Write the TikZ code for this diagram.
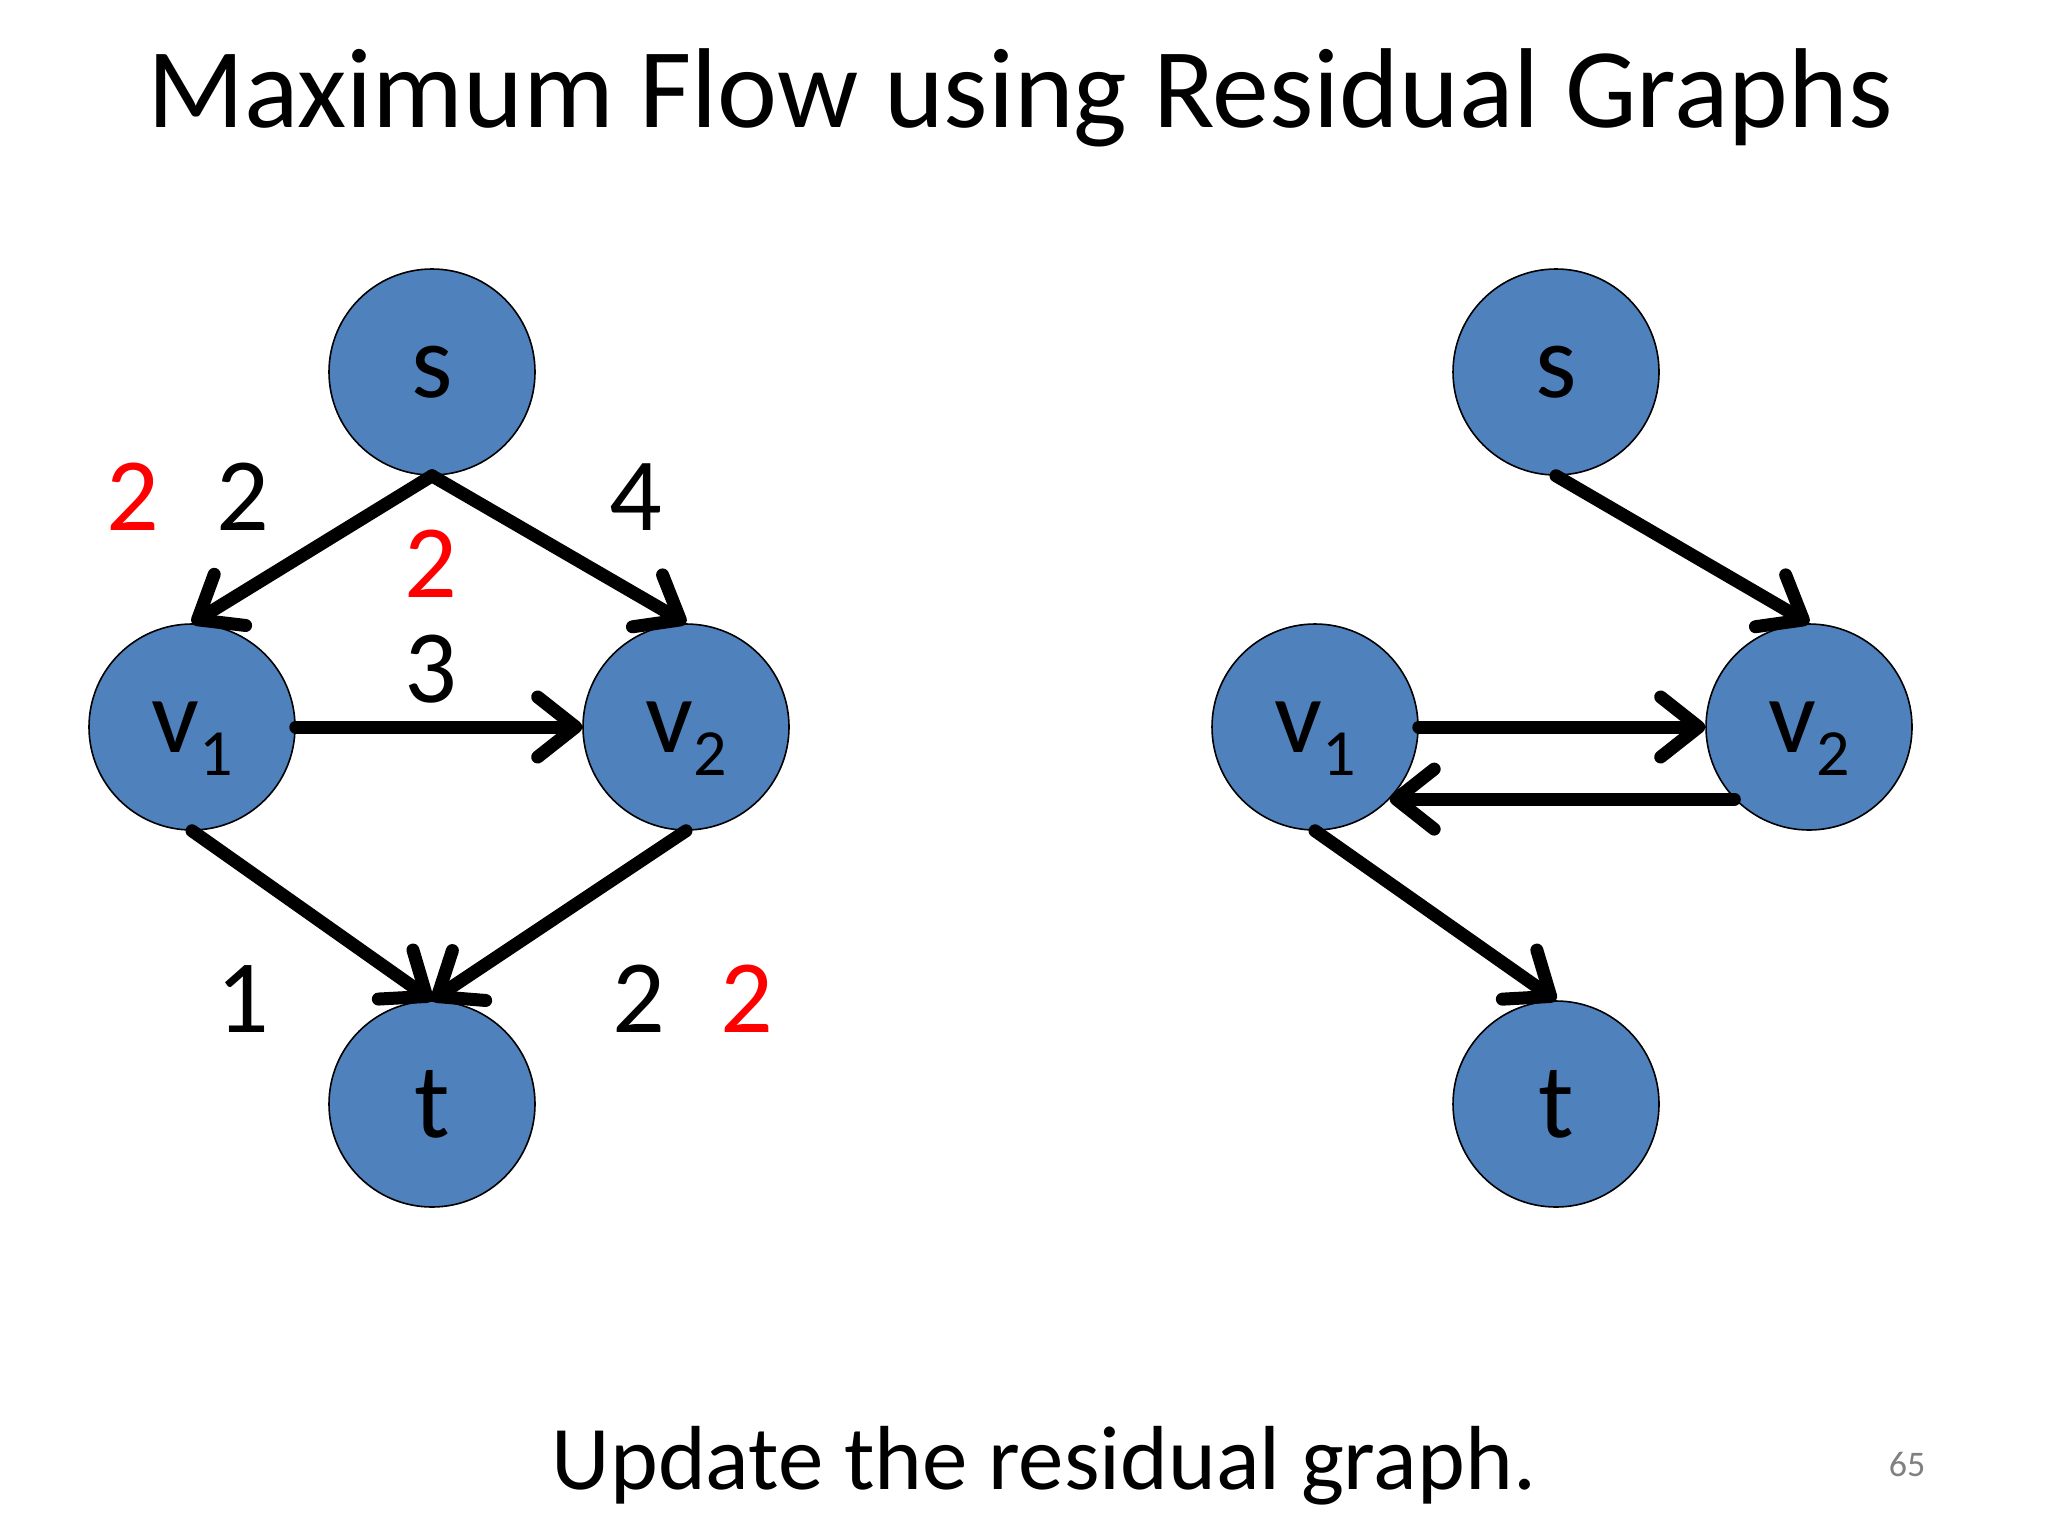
\documentclass[tikz,border=0pt]{standalone}
\usepackage{fontspec}
\setmainfont{Carlito}
\usetikzlibrary{arrows.meta}
\definecolor{nodeblue}{RGB}{79,129,189}
\definecolor{labred}{RGB}{255,0,0}
\definecolor{pgnum}{RGB}{128,128,128}
\tikzset{
  vert/.style={circle, draw=black, line width=0.8pt, fill=nodeblue, minimum size=103pt, inner sep=0pt,
     font=\fontsize{53}{53}\selectfont},
  flow/.style={draw=black, line width=6.5pt, line cap=round,
     -{Straight Barb[length=19pt,width=30pt,line cap=round,round]},
     preaction={draw=black!18, transform canvas={shift={(1.5pt,-2pt)}}}},
  edgelab/.style={font=\fontsize{52}{52}\selectfont, text=black, anchor=base},
  edgelabred/.style={edgelab, text=labred},
}
\newcommand{\nlab}[1]{\raisebox{-4.5pt}{#1}}
\newcommand{\vsub}[1]{\raisebox{-4.5pt}{v\raisebox{-11.5pt}[0pt][0pt]{\fontsize{33}{33}\selectfont #1}}}
\begin{document}
\begin{tikzpicture}[x=0.5pt,y=-0.5pt]
\useasboundingbox (0,0) rectangle (2048,1536);
\fill[white] (0,0) rectangle (2048,1536);
% title
\node[anchor=base, font=\fontsize{56.8}{57}\selectfont] (title) at (1020,127) {Maximum Flow using Residual Graphs};
% left graph
\node[vert] (s) at (432,372) {\nlab{s}};
\node[vert] (v1) at (192,727) {\vsub{1}};
\node[vert] (v2) at (686,727) {\vsub{2}};
\node[vert] (t) at (432,1104) {\nlab{t}};
\draw[flow] (s.south) -- (v1.north);
\draw[flow] (s.south) -- (v2.north);
\draw[flow] (v1.east) -- (v2.west);
\draw[flow] (v1.south) -- (t.north);
\draw[flow] (v2.south) -- (t.north);
\node[edgelabred] (r1) at (133,530) {2};
\node[edgelab] (c1) at (243,530) {2};
\node[edgelab] (c2) at (636,530) {4};
\node[edgelabred] (r2) at (431,597) {2};
\node[edgelab] (c3) at (431,702) {3};
\node[edgelab] (c4) at (243,1032) {1};
\node[edgelab] (c5) at (639,1032) {2};
\node[edgelabred] (r3) at (747,1032) {2};
% right graph
\node[vert] (rs) at (1556,372) {\nlab{s}};
\node[vert] (rv1) at (1315,727) {\vsub{1}};
\node[vert] (rv2) at (1809,727) {\vsub{2}};
\node[vert] (rt) at (1556,1104) {\nlab{t}};
\draw[flow] (rs.south) -- (rv2.north);
\draw[flow] (rv1.east) -- (rv2.west);
\draw[flow] (rv2.224) -- (rv1.-44);
\draw[flow] (rv1.south) -- (rt.north);
% footer
\node[anchor=base, font=\fontsize{45.5}{46}\selectfont] (foot) at (1044,1489) {Update the residual graph.};
\node[anchor=base, text=pgnum, font=\fontsize{18}{18}\selectfont] (pg) at (1907,1476) {65};
\end{tikzpicture}
\end{document}
